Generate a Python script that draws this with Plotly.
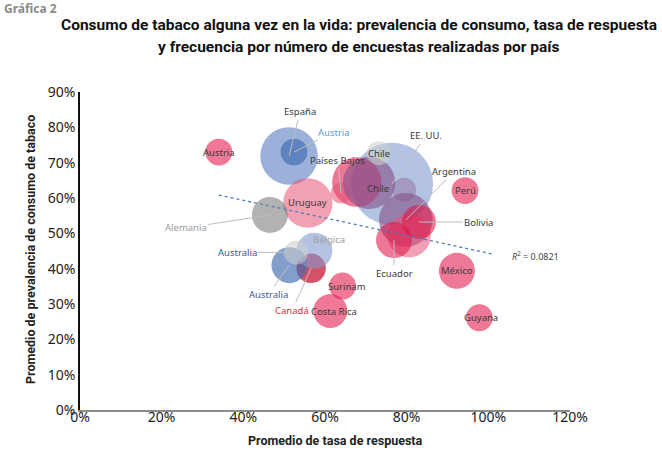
import plotly.graph_objects as go

# ---------------- data ----------------
paises = ["EE. UU.", "España", "Austria", "Austria", "Uruguay", "Alemania",
          "", "Países Bajos", "Chile", "Chile", "", "Argentina", "",
          "Bolivia", "Ecuador", "Perú", "México", "Guyana", "Surinam",
          "Costa Rica", "Canadá", "Australia", "Bélgica", "Australia"]
tasa_respuesta = [76.4, 51.2, 52.4, 34.0, 55.8, 46.5,
                  67.8, 63.9, 70.8, 73.2, 79.4, 79.8, 80.6,
                  83.0, 76.9, 94.3, 92.3, 97.8, 64.3,
                  61.3, 56.6, 51.3, 57.4, 52.9]
prevalencia = [64.0, 71.9, 73.0, 73.0, 58.6, 55.2,
               64.5, 61.4, 64.3, 72.7, 62.3, 53.8, 49.3,
               53.2, 48.1, 62.1, 39.4, 26.1, 35.1,
               28.0, 40.1, 41.0, 45.1, 44.6]
num_encuestas = [47, 23, 5, 5, 17, 9,
                 17, 3, 19, 4, 4, 20, 13,
                 8, 9, 5, 9, 5, 5,
                 8, 6, 9, 9, 4]
grupo = ["celeste", "azul", "azul_osc", "rojo", "rosa", "gris",
         "rojo", "rosa", "morado", "gris_claro", "morado_cl", "morado", "rosa",
         "rojo", "rojo", "rojo", "rojo", "rojo", "rojo",
         "rojo", "rojo_osc", "azul_osc", "celeste", "gris_claro"]

pendiente = -0.249
intercepto = 69.3
tendencia_x = [34.0, 101.1]
r2 = 0.0821

x_ticks = [0, 20, 40, 60, 80, 100, 120]
y_ticks = [0, 10, 20, 30, 40, 50, 60, 70, 80, 90]

# ---------------- styles ----------------
colores = {
    "rojo": "rgba(226,20,70,0.82)",
    "rosa": "rgba(232,80,115,0.78)",
    "azul": "rgba(95,128,194,0.88)",
    "azul_osc": "rgba(60,105,175,0.92)",
    "celeste": "rgba(130,155,208,0.85)",
    "gris": "rgba(125,125,125,0.85)",
    "gris_claro": "rgba(205,205,205,0.8)",
    "morado": "rgba(135,85,140,0.92)",
    "morado_cl": "rgba(135,85,140,0.55)",
    "rojo_osc": "rgba(195,10,40,1)",
}

W, H = 662, 452
L, R, T, B = 80, 92, 92, 42
pw, ph = W - L - R, H - T - B

def paper_x(px):
    return (px - L) / pw

def paper_y(py):
    return (H - B - py) / ph

label_font = dict(family="Noto Sans, Open Sans, sans-serif", size=9.5, color="#3a3a3a")
cond_bold = "Roboto, Liberation Sans, sans-serif"

fig = go.Figure()

fig.add_trace(go.Scatter(
    x=tasa_respuesta, y=prevalencia, mode="markers",
    marker=dict(size=num_encuestas, sizemode="area", sizeref=1/72,
                color=[colores[g] for g in grupo], line=dict(width=0)),
    hoverinfo="skip", showlegend=False,
))

fig.add_trace(go.Scatter(
    x=tendencia_x, y=[intercepto + pendiente * v for v in tendencia_x],
    mode="lines", line=dict(color="#4a7ebb", width=1.3, dash="dot"),
    hoverinfo="skip", showlegend=False,
))

# labels: index -> (text color, ax, ay) for leader lines, or (xshift, yshift) inside
con_linea = {
    1: ("#3a3a3a", 11, -44),
    2: ("#5b9bd5", 40, -20),
    7: ("#3a3a3a", -3, -33),
    0: ("#3a3a3a", 34, -48),
    11: ("#3a3a3a", 48, -48),
    13: ("#3a3a3a", 60, 0),
    14: ("#3a3a3a", 0, 33),
    5: ("#9a9a9a", -84, 13),
    23: ("#3a5a8c", -59, 0),
    21: ("#3a5a8c", -21, 29),
    20: ("#e02d3c", -19, 42),
}
dentro = {
    3: ("#3a3a3a", 0, 0),
    4: ("#3a3a3a", 0, 0),
    9: ("#3a3a3a", 0, 0),
    8: ("#3a3a3a", 9, -6),
    15: ("#3a3a3a", 0, 0),
    16: ("#3a3a3a", 0, 0),
    17: ("#3a3a3a", 2, 0),
    18: ("#3a3a3a", 4, -1),
    19: ("#3a3a3a", 4, 0),
    22: ("#a0a0a0", 15, 11),
}

annotations = []
for i, (col, ax, ay) in con_linea.items():
    annotations.append(dict(
        x=tasa_respuesta[i], y=prevalencia[i], xref="x", yref="y",
        text=paises[i], showarrow=True, ax=ax, ay=ay, arrowhead=0,
        arrowwidth=1, arrowcolor="#bdbdbd", standoff=0,
        font=dict(label_font, color=col)))
for i, (col, xs, ys) in dentro.items():
    annotations.append(dict(
        x=tasa_respuesta[i], y=prevalencia[i], xref="x", yref="y",
        text=paises[i], showarrow=False, xshift=xs, yshift=ys,
        xanchor="center", yanchor="middle",
        font=dict(label_font, color=col)))

def texto(px, py, txt, font, angle=0, xanchor="center"):
    annotations.append(dict(
        x=paper_x(px), y=paper_y(py), xref="paper", yref="paper",
        xanchor=xanchor, yanchor="middle", text=txt, showarrow=False,
        textangle=angle, font=font))

texto(535, 256, "<i>R</i><sup>2</sup> = %.4f" % r2,
      dict(family="Noto Sans, sans-serif", size=9, color="#444"))
texto(2, 9, "<b>Gráfica 2</b>",
      dict(family="Noto Sans, sans-serif", size=12, color="#8a8a8a"), xanchor="left")
texto(359, 25, "<b>Consumo de tabaco alguna vez en la vida: prevalencia de consumo, tasa de respuesta</b>",
      dict(family=cond_bold, size=15.5, color="#111"))
texto(359, 47, "<b>y frecuencia por número de encuestas realizadas por país</b>",
      dict(family=cond_bold, size=15.5, color="#111"))
texto(335, 440, "<b>Promedio de tasa de respuesta</b>",
      dict(family=cond_bold, size=12.5, color="#222"))
texto(30, 250, "<b>Promedio de prevalencia de consumo de tabaco</b>",
      dict(family=cond_bold, size=12.5, color="#222"), angle=-90)

tick_font = dict(family="Noto Sans, sans-serif", size=14, color="#222")
fig.update_layout(
    width=W, height=H, margin=dict(l=L, r=R, t=T, b=B, autoexpand=False),
    paper_bgcolor="white", plot_bgcolor="white",
    annotations=annotations,
    xaxis=dict(range=[0, 120], tickvals=x_ticks, ticktext=[f"{v}%" for v in x_ticks],
               showgrid=False, zeroline=False, showline=True, linecolor="#8c8c8c",
               linewidth=2, ticks="", ticklabelstandoff=-7, tickfont=tick_font),
    yaxis=dict(range=[0, 90], tickvals=y_ticks, ticktext=[f"{v}%" for v in y_ticks],
               showgrid=False, zeroline=False, showline=True, linecolor="#111",
               linewidth=1.5, ticks="", ticklabelstandoff=0, tickfont=tick_font),
)

fig.write_html("out.html", config={"displayModeBar": False},
               post_script="document.body.style.margin='0';")
